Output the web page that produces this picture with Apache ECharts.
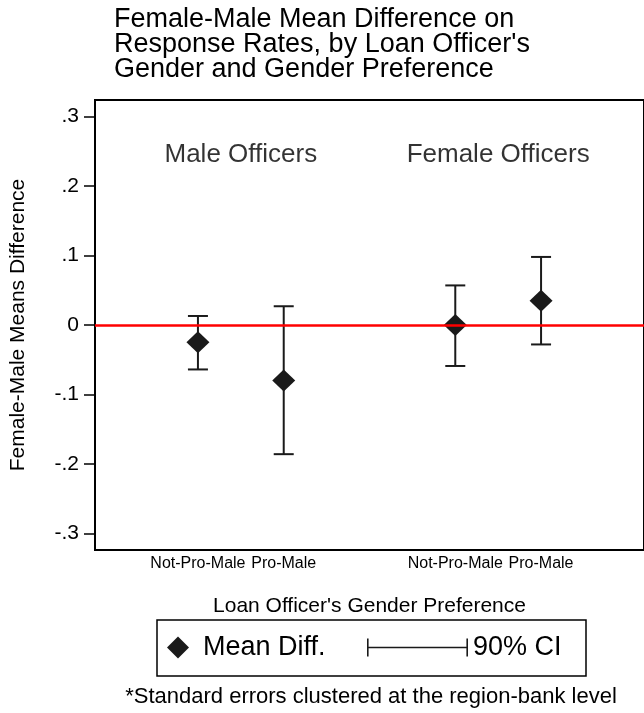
<!DOCTYPE html>
<html>
<head>
<meta charset="utf-8">
<script src="https://cdn.jsdelivr.net/npm/echarts@6/dist/echarts.min.js"></script>
<style>
html,body{margin:0;padding:0;background:#fff;}
#chart{width:644px;height:713px;}
</style>
</head>
<body>
<div id="chart"></div>
<script>
// ---- data ----
const categories = ['Not-Pro-Male', 'Pro-Male', 'Not-Pro-Male', 'Pro-Male'];
const xPositions = [1, 2, 4, 5];
const meanDiff = [-0.025, -0.080, 0.000, 0.035];
const ciLower = [-0.064, -0.186, -0.059, -0.028];
const ciUpper = [0.013, 0.027, 0.057, 0.098];
const groupLabels = ['Male Officers', 'Female Officers'];
const groupLabelX = [1.5, 4.5];
const groupLabelY = [0.245, 0.245];
const yTickValues = [-0.3, -0.2, -0.1, 0, 0.1, 0.2, 0.3];
const yTickLabels = ['-.3', '-.2', '-.1', '0', '.1', '.2', '.3'];
const titleText = "Female-Male Mean Difference on\nResponse Rates, by Loan Officer's\nGender and Gender Preference";
const xAxisName = "Loan Officer's Gender Preference";
const yAxisName = 'Female-Male Means Difference';
const noteText = '*Standard errors clustered at the region-bank level';

const FONT = "'Liberation Sans', Arial, Helvetica, sans-serif";
const INK = '#1a1a1a';

const chart = echarts.init(document.getElementById('chart'), null, {renderer: 'canvas'});

const meanData = xPositions.map((x, i) => [x, meanDiff[i]]);
const ciData = xPositions.map((x, i) => [x, ciLower[i], ciUpper[i]]);
const groupData = groupLabels.map((t, i) => [groupLabelX[i], groupLabelY[i], t]);

const option = {
  animation: false,
  backgroundColor: '#fff',
  textStyle: {fontFamily: FONT},
  title: {
    text: titleText,
    left: 114,
    top: 7,
    padding: 0,
    textStyle: {fontFamily: FONT, fontSize: 27, lineHeight: 25, fontWeight: 'normal', color: '#000'}
  },
  grid: {
    left: 93, top: 100, right: -5, bottom: 163,
    show: true, borderColor: '#000', borderWidth: 2, backgroundColor: '#fff',
    containLabel: false
  },
  legend: [
    {
      left: 167, top: 634, padding: 0,
      itemWidth: 22, itemHeight: 22,
      selectedMode: false,
      data: [{name: 'Mean Diff.', icon: 'diamond', itemStyle: {color: INK}}],
      textStyle: {fontFamily: FONT, fontSize: 27, color: '#000', padding: [0, 0, 0, 9]}
    },
    {
      left: 367, top: 634, padding: 0,
      itemWidth: 101, itemHeight: 18,
      selectedMode: false,
      data: [{name: '90% CI', icon: 'path://M0,0h1.6v18h-1.6z M0,8.2h101v1.6h-101z M99.4,0h1.6v18h-1.6z', itemStyle: {color: INK}}],
      textStyle: {fontFamily: FONT, fontSize: 27, color: '#000'}
    }
  ],
  xAxis: {
    type: 'value',
    min: -0.2, max: 6.2,
    name: xAxisName,
    nameLocation: 'middle',
    nameGap: 46,
    nameTextStyle: {fontFamily: FONT, fontSize: 21, color: '#000'},
    axisLine: {show: false, onZero: false},
    axisTick: {show: false},
    splitLine: {show: false},
    axisLabel: {
      customValues: xPositions,
      formatter: (v) => { const i = xPositions.indexOf(v); return i >= 0 ? categories[i] : ''; },
      fontFamily: FONT, fontSize: 16, color: '#000', margin: 6
    }
  },
  yAxis: {
    type: 'value',
    min: -0.324, max: 0.324,
    name: yAxisName,
    nameLocation: 'middle',
    nameGap: 66,
    nameTextStyle: {fontFamily: FONT, fontSize: 21, color: '#000'},
    axisLine: {show: false, onZero: false},
    axisTick: {show: true, inside: false, customValues: yTickValues, length: 11, lineStyle: {color: '#000', width: 1.5}},
    splitLine: {show: false},
    axisLabel: {
      customValues: yTickValues,
      formatter: (v) => { const i = yTickValues.findIndex(t => Math.abs(t - v) < 1e-9); return i >= 0 ? yTickLabels[i] : ''; },
      fontFamily: FONT, fontSize: 21, color: '#000', margin: 16
    }
  },
  series: [
    {
      name: 'zero',
      type: 'line',
      data: [],
      silent: true,
      z: 1,
      markLine: {
        silent: true,
        symbol: 'none',
        label: {show: false},
        lineStyle: {color: '#ff0000', width: 2.5, type: 'solid'},
        data: [{yAxis: 0}]
      }
    },
    {
      name: '90% CI',
      type: 'custom',
      z: 3,
      data: ciData,
      itemStyle: {color: INK},
      renderItem: function (params, api) {
        const x = api.value(0);
        const lo = api.coord([x, api.value(1)]);
        const hi = api.coord([x, api.value(2)]);
        const hw = 10;
        const style = {stroke: INK, lineWidth: 2};
        return {
          type: 'group',
          children: [
            {type: 'line', shape: {x1: lo[0], y1: lo[1], x2: hi[0], y2: hi[1]}, style: style},
            {type: 'line', shape: {x1: lo[0] - hw, y1: lo[1], x2: lo[0] + hw, y2: lo[1]}, style: style},
            {type: 'line', shape: {x1: hi[0] - hw, y1: hi[1], x2: hi[0] + hw, y2: hi[1]}, style: style}
          ]
        };
      }
    },
    {
      name: 'Mean Diff.',
      type: 'scatter',
      z: 4,
      symbol: 'diamond',
      symbolSize: [23, 22],
      itemStyle: {color: INK, opacity: 1},
      data: meanData
    },
    {
      name: 'groups',
      type: 'scatter',
      z: 5,
      silent: true,
      symbolSize: 0,
      data: groupData,
      label: {
        show: true, position: 'inside',
        formatter: (p) => p.value[2],
        fontFamily: FONT, fontSize: 26, color: '#000'
      }
    }
  ],
  graphic: [
    {
      type: 'rect',
      shape: {x: 157, y: 620, width: 429, height: 56},
      style: {fill: 'none', stroke: '#000', lineWidth: 1.5},
      silent: true
    },
    {
      type: 'text',
      x: 371, y: 697,
      style: {text: noteText, fontFamily: FONT, fontSize: 22, fill: '#000', textAlign: 'center', textVerticalAlign: 'middle'},
      silent: true
    }
  ]
};

chart.setOption(option);
</script>
</body>
</html>
